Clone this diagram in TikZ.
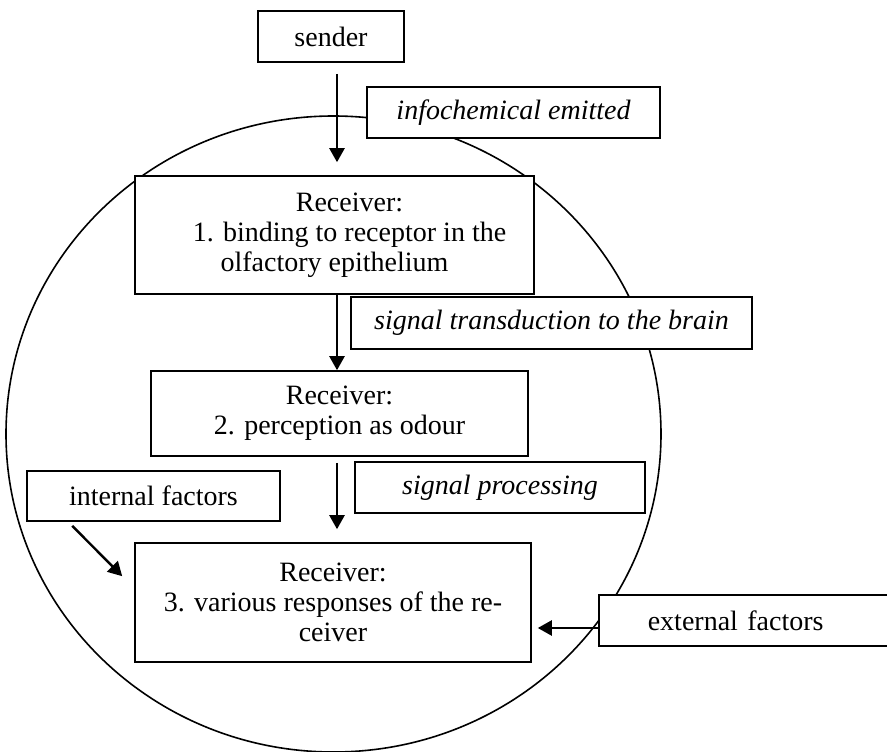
\documentclass[tikz,border=0pt]{standalone}
\usepackage{fontspec}
\setmainfont{Liberation Serif}
\usetikzlibrary{arrows.meta}
\begin{document}
\begin{tikzpicture}[x=1pt,y=-1pt,
  box/.style={draw, line width=1.6pt, fill=white, inner sep=0pt, align=center,
    font=\fontsize{28}{30}\selectfont},
  lbl/.style={box, font=\fontsize{28}{30}\selectfont\itshape},
  arr/.style={line width=2.4pt, -{Triangle[length=14pt,width=15pt]}}]
\useasboundingbox (0,0) rectangle (887,752);

% the receiver organism
\draw[line width=1.6pt] (333.5,434) ellipse [x radius=327.5, y radius=318];

% stages
\node[box, minimum width=146pt, minimum height=51pt] (sender) at (331,36.5) {sender};
\node[lbl, minimum width=293pt, minimum height=51pt] (emit) at (513.5,112.5) {infochemical emitted};
\node[box, minimum width=399pt, minimum height=118pt] (r1) at (334.5,235)
  {\hspace*{30pt}Receiver:\\ \hspace*{30pt}1. binding to receptor in the\\ olfactory epithelium};
\node[lbl, minimum width=401pt, minimum height=52pt] (trans) at (551.5,323) {signal transduction to the brain};
\node[box, minimum width=377pt, minimum height=85pt] (r2) at (339.5,413.5)
  {Receiver:\\ 2. perception as odour};
\node[lbl, minimum width=290pt, minimum height=51pt] (proc) at (500,487.5) {signal processing};
\node[box, minimum width=253pt, minimum height=50pt] (int) at (153.5,496) {internal factors};
\node[box, minimum width=396pt, minimum height=119pt] (r3) at (333,602.5)
  {Receiver:\\ 3. various responses of the re-\\ ceiver};
\node[box, anchor=west, text width=240pt, align=left, inner xsep=49pt,
  minimum height=51pt] (ext) at (598,620.5) {external factors};

% connectors
\coordinate (ax) at (337,0);
\draw[arr] ([yshift=-11pt]sender.south -| ax) -- ([yshift=13pt]r1.north -| ax);
\draw[arr] (r1.south -| ax) -- (r2.north -| ax);
\draw[arr] ([yshift=-6pt]r2.south -| ax) -- ([yshift=13pt]r3.north -| ax);
\draw[arr] ([shift={(46,4)}]int.south west) -- ([shift={(-12,34)}]r3.north west);
\draw[arr, shorten >=6pt] ([yshift=-7.5pt]ext.west) coordinate (e1) -- (e1 -| r3.east);
\end{tikzpicture}
\end{document}
